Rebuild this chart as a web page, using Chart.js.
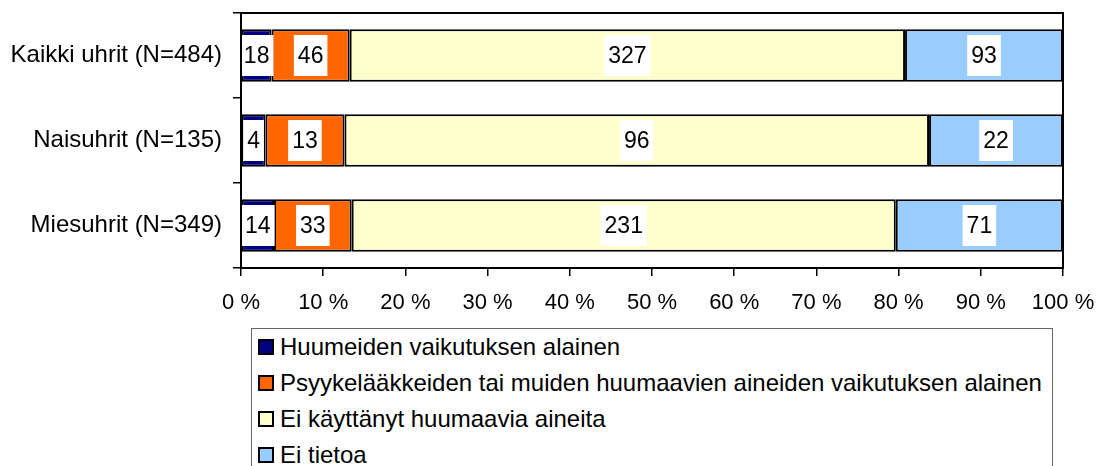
<!DOCTYPE html>
<html>
<head>
<meta charset="utf-8">
<script src="https://cdn.jsdelivr.net/npm/chart.js@4/dist/chart.umd.min.js"></script>
<style>
  body { margin: 0; background: #fff; }
  #wrap { position: relative; width: 1098px; height: 466px; overflow: hidden; }
  #legend {
    position: absolute; left: 251px; top: 328px; width: 802px; height: 160px;
    border: 1.5px solid #666; box-sizing: border-box; background: #fff;
    font-family: "Liberation Sans", Arial, sans-serif; font-size: 24px; color: #000;
  }
  .item { position: absolute; left: 6px; height: 28px; line-height: 28px; white-space: nowrap; }
  .sw { display: inline-block; box-sizing: border-box; width: 16px; height: 16px; border: 2px solid #000; vertical-align: middle; margin-right: 6px; position: relative; top: -2px; }
</style>
</head>
<body>
<div id="wrap">
  <canvas id="chart" width="1098" height="466"></canvas>
  <div id="legend"></div>
</div>
<script>
const categories = ['Kaikki uhrit (N=484)', 'Naisuhrit (N=135)', 'Miesuhrit (N=349)'];
const seriesNames = [
  'Huumeiden vaikutuksen alainen',
  'Psyykelääkkeiden tai muiden huumaavien aineiden vaikutuksen alainen',
  'Ei käyttänyt huumaavia aineita',
  'Ei tietoa'
];
const huumeet = [18, 4, 14];
const psyykelaakkeet = [46, 13, 33];
const eiKayttanyt = [327, 96, 231];
const eiTietoa = [93, 22, 71];
const xTicks = [0, 10, 20, 30, 40, 50, 60, 70, 80, 90, 100];
const colors = ['#000080', '#FF6600', '#FFFFCC', '#99CCFF'];

const counts = [huumeet, psyykelaakkeet, eiKayttanyt, eiTietoa];
const totals = categories.map((c, i) => counts.reduce((s, arr) => s + arr[i], 0));
const FONT = '"Liberation Sans", Arial, sans-serif';

const datasets = counts.map((arr, d) => ({
  label: seriesNames[d],
  data: arr.map((v, i) => v / totals[i] * 100),
  counts: arr,
  backgroundColor: colors[d],
  borderColor: '#000',
  borderWidth: 2,
  borderSkipped: false,
  barPercentage: 0.615,
  categoryPercentage: 1
}));

// white boxes with the counts in the middle of each segment, and the plot frame
const valueBoxes = {
  id: 'valueBoxes',
  afterDatasetsDraw(chart) {
    const ctx = chart.ctx;
    ctx.save();
    ctx.font = '23px ' + FONT;
    ctx.textAlign = 'center';
    ctx.textBaseline = 'middle';
    chart.data.datasets.forEach((ds, d) => {
      chart.getDatasetMeta(d).data.forEach((el, i) => {
        const txt = String(ds.counts[i]);
        const w = ctx.measureText(txt).width + 8;
        const h = 41;
        const cx = (el.x + el.base) / 2;
        ctx.fillStyle = '#fff';
        ctx.fillRect(cx - w / 2, el.y - h / 2, w, h);
        ctx.fillStyle = '#000';
        ctx.fillText(txt, cx, el.y + 1);
      });
    });
    ctx.restore();
  },
  afterDraw(chart) {
    const a = chart.chartArea;
    const ctx = chart.ctx;
    ctx.save();
    ctx.strokeStyle = '#000';
    ctx.lineWidth = 2;
    ctx.strokeRect(a.left, a.top, a.right - a.left, a.bottom - a.top);
    ctx.restore();
  }
};

new Chart(document.getElementById('chart').getContext('2d'), {
  type: 'bar',
  data: { labels: categories, datasets },
  options: {
    indexAxis: 'y',
    responsive: false,
    animation: false,
    layout: { padding: { top: 13, right: 35, left: 0, bottom: 0 } },
    plugins: { legend: { display: false }, tooltip: { enabled: false } },
    scales: {
      x: {
        stacked: true,
        min: 0,
        max: 100,
        afterBuildTicks: scale => { scale.ticks = xTicks.map(v => ({ value: v })); },
        afterFit: scale => {
          scale.height = 198;
          scale.paddingLeft = 0;
          scale.paddingRight = 0;
        },
        ticks: {
          color: '#000',
          font: { family: FONT, size: 22 },
          padding: 14,
          maxRotation: 0,
          callback: v => v + ' %'
        },
        grid: { drawOnChartArea: false, tickLength: 8, color: '#000', lineWidth: 1.5 },
        border: { color: '#000', width: 2 }
      },
      y: {
        stacked: true,
        afterFit: scale => {
          scale.width = 241;
          scale.paddingTop = 0;
          scale.paddingBottom = 0;
        },
        ticks: {
          color: '#000',
          font: { family: FONT, size: 24 },
          padding: 11
        },
        grid: { drawOnChartArea: false, tickLength: 8, color: '#000', lineWidth: 1.5, offset: true },
        border: { color: '#000', width: 2 }
      }
    }
  },
  plugins: [valueBoxes]
});

const legend = document.getElementById('legend');
seriesNames.forEach((name, d) => {
  const item = document.createElement('div');
  item.className = 'item';
  item.style.top = (4 + d * 36) + 'px';
  item.innerHTML = '<span class="sw" style="background:' + colors[d] + '"></span>' + name;
  legend.appendChild(item);
});
</script>
</body>
</html>
